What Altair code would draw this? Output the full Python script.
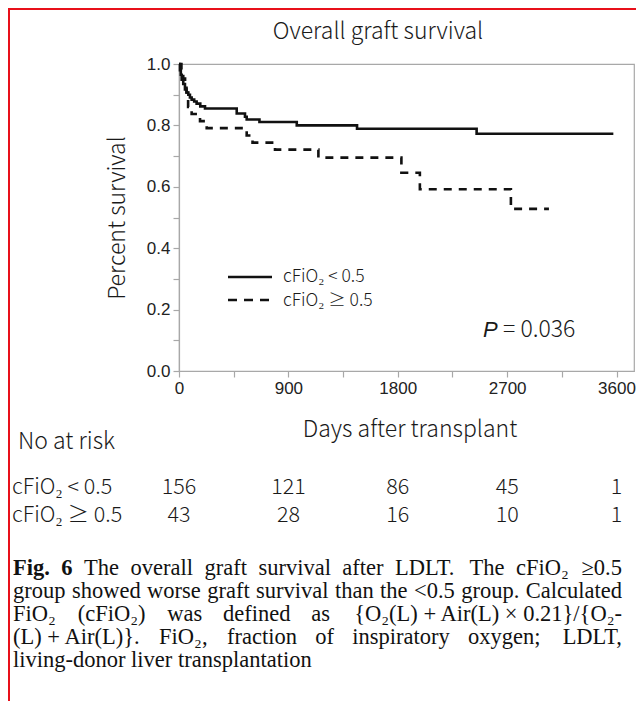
import altair as alt
import pandas as pd

# ---- data ----
days_low = [0, 8, 15, 22, 35, 49, 62, 77, 90, 104, 125, 145, 175, 214, 475, 543, 557, 662, 969, 1465, 2449, 3574]
surv_low = [1.0, 0.98, 0.965, 0.949, 0.935, 0.917, 0.907, 0.90, 0.891, 0.884, 0.878, 0.871, 0.862, 0.855,
            0.839, 0.828, 0.819, 0.811, 0.80, 0.789, 0.773, 0.773]
days_high = [0, 20, 35, 50, 62, 69, 75, 104, 173, 228, 557, 605, 790, 1147, 1830, 1982, 2731, 3044]
surv_high = [1.0, 0.977, 0.953, 0.93, 0.907, 0.884, 0.86, 0.837, 0.814, 0.791, 0.767, 0.744, 0.721,
             0.695, 0.646, 0.592, 0.528, 0.528]

risk_days = [0, 900, 1800, 2700, 3600]
risk_low = [156, 121, 86, 45, 1]
risk_high = [43, 28, 16, 10, 1]

x_ticks = [0, 450, 900, 1350, 1800, 2250, 2700, 3150, 3600]
y_ticks = [0.0, 0.1, 0.2, 0.3, 0.4, 0.5, 0.6, 0.7, 0.8, 0.9, 1.0]

title_text = "Overall graft survival"
x_title = "Days after transplant"
y_title = "Percent survival"
group_labels = ["cFiO\u2082 < 0.5", "cFiO\u2082 \u2265 0.5"]
p_text = "= 0.036"

caption_lines = [
    [("Fig.", True), ("6", True), ("The", False), ("overall", False), ("graft", False), ("survival", False),
     ("after", False), ("LDLT.", False), ("The", False), ("cFiO\u2082", False), ("\u22650.5", False)],
    [(w, False) for w in "group showed worse graft survival than the <0.5 group. Calculated".split(" ")],
    [(w, False) for w in ["FiO\u2082", "(cFiO\u2082)", "was", "defined", "as",
                          "{O\u2082(L) + Air(L) \u00d7 0.21}/{O\u2082-"]],
    [(w, False) for w in ["(L) + Air(L)}.", "FiO\u2082,", "fraction", "of", "inspiratory", "oxygen;", "LDLT,"]],
]
caption_last = "living-donor liver transplantation"

# ---- layout ----
W, H = 455, 307
X_MAX = 3744
CJK = "Noto Sans CJK JP"
INK = "#1a1a1a"
GRID = "#a8a8a8"
TICK_FONT = 17

x_scale = alt.Scale(domain=[0, X_MAX], nice=False, zero=True)
y_scale = alt.Scale(domain=[0, 1], nice=False)
x_axis = alt.Axis(values=x_ticks, format="d", labelExpr="datum.value % 900 == 0 ? datum.label : ''",
                  title=None, grid=False, labelFontSize=TICK_FONT, labelFont="Liberation Sans",
                  labelColor="#222", labelPadding=3, tickSize=6, labelFlush=False)
y_axis = alt.Axis(values=y_ticks, format=".1f",
                  labelExpr="round(datum.value * 10) % 2 == 0 ? datum.label : ''",
                  title=None, grid=False, labelFontSize=TICK_FONT, labelFont="Liberation Sans",
                  labelColor="#222", labelPadding=3, tickSize=6)

low_df = pd.DataFrame({"day": days_low, "s": surv_low})
high_df = pd.DataFrame({"day": days_high, "s": surv_high})

line_low = alt.Chart(low_df).mark_line(interpolate="step-after", strokeWidth=2.6, color="#111").encode(
    x=alt.X("day:Q", scale=x_scale, axis=x_axis),
    y=alt.Y("s:Q", scale=y_scale, axis=y_axis),
)
line_high = alt.Chart(high_df).mark_line(interpolate="step-after", strokeWidth=2.6, color="#111",
                                         strokeDash=[8, 7]).encode(
    x=alt.X("day:Q", scale=x_scale, axis=x_axis),
    y=alt.Y("s:Q", scale=y_scale, axis=y_axis),
)

BIG = 23
RISK = 21.5
LEG = 17.5

risk_df = pd.DataFrame({"day": risk_days + risk_days,
                        "n": [str(v) for v in risk_low] + [str(v) for v in risk_high],
                        "row": [0] * 5 + [1] * 5})
risk_layers = []
for r, yy in [(0, 424), (1, 452)]:
    risk_layers.append(
        alt.Chart(risk_df[risk_df.row == r]).mark_text(font=CJK, fontSize=RISK, color=INK, align="center",
                                                       baseline="middle", fontWeight=300).encode(
            x=alt.X("day:Q", scale=x_scale, axis=x_axis),
            y=alt.value(yy),
            text="n:N",
        )
    )


def txt(text, x, y, size, font=CJK, align="left", baseline="middle", angle=0, weight=300,
        style="normal", color=INK):
    return alt.Chart(pd.DataFrame({"t": [text]})).mark_text(
        font=font, fontSize=size, align=align, baseline=baseline, angle=angle,
        fontWeight=weight, fontStyle=style, color=color,
    ).encode(x=alt.value(x), y=alt.value(y), text="t:N")


# Times / Liberation Serif advance widths (per 1000 em) for caption justification
TW = {" ": 250, "(": 333, ")": 333, "+": 564, ",": 250, "-": 333, ".": 250, "/": 278, ";": 278,
      "<": 564, "{": 480, "}": 480, "\u00d7": 564, "\u2265": 549, "\u2082": 400,
      "A": 722, "C": 667, "D": 722, "F": 556, "L": 611, "O": 722, "T": 611,
      "a": 444, "b": 500, "c": 444, "d": 500, "e": 444, "f": 333, "g": 500, "h": 500, "i": 278,
      "l": 278, "m": 778, "n": 500, "o": 500, "p": 500, "r": 333, "s": 389, "t": 278, "u": 500,
      "v": 500, "w": 722, "x": 500, "y": 500}
for d in "0123456789":
    TW[d] = 500
TWB = {"F": 611, "i": 278, "g": 500, ".": 250, "6": 500}


def text_width(s, size, bold=False):
    tab = TWB if bold else TW
    return sum(tab.get(ch, TW.get(ch, 500)) for ch in s) * size / 1000.0


CAP_SIZE = 22.5
CAP_FONT = "Liberation Serif"
CAP_LEFT, CAP_RIGHT = -166, 443
cap_y = [504, 527, 550, 573, 596]

caption_layers = []
for words, yy in zip(caption_lines, cap_y):
    widths = [text_width(w, CAP_SIZE, b) for w, b in words]
    gap = (CAP_RIGHT - CAP_LEFT - sum(widths)) / (len(words) - 1)
    xpos = CAP_LEFT
    for i, ((w, b), wd) in enumerate(zip(words, widths)):
        if i == len(words) - 1:
            caption_layers.append(txt(w, CAP_RIGHT, yy, CAP_SIZE, font=CAP_FONT, align="right",
                                      weight="bold" if b else "normal", color="#111"))
        else:
            caption_layers.append(txt(w, xpos, yy, CAP_SIZE, font=CAP_FONT, align="left",
                                      weight="bold" if b else "normal", color="#111"))
        xpos += wd + gap
caption_layers.append(txt(caption_last, CAP_LEFT, cap_y[4], CAP_SIZE, font=CAP_FONT, weight="normal",
                          color="#111"))

# legend (drawn manually)
leg_solid = alt.Chart(pd.DataFrame({"a": [0]})).mark_rule(strokeWidth=2.6, color="#111").encode(
    x=alt.value(49), x2=alt.value(93), y=alt.value(213))
leg_dash = alt.Chart(pd.DataFrame({"a": [0]})).mark_rule(strokeWidth=2.6, color="#111",
                                                         strokeDash=[9, 7]).encode(
    x=alt.value(49), x2=alt.value(95), y=alt.value(236))

# red frame lines of the page
red_top = alt.Chart(pd.DataFrame({"a": [0]})).mark_rule(strokeWidth=2, color="#e8101a").encode(
    x=alt.value(-171), x2=alt.value(457), y=alt.value(-55))
red_left = alt.Chart(pd.DataFrame({"a": [0]})).mark_rule(strokeWidth=2, color="#e8101a").encode(
    x=alt.value(-170), y=alt.value(-56), y2=alt.value(637))

layers = [line_low, line_high] + risk_layers + [
    leg_solid, leg_dash,
    txt(group_labels[0], 104, 213, LEG),
    txt(group_labels[1], 104, 237, LEG),
    txt("P", 304, 266, 22, font="Liberation Sans", style="italic", weight="normal"),
    txt(p_text, 324, 266, BIG),
    txt(title_text, 199, -32, BIG, align="center"),
    txt(y_title, -61, 154, BIG, align="center", angle=270),
    txt(x_title, 231, 366, BIG, align="center"),
    txt("No at risk", -161, 378, BIG),
    txt(group_labels[0], -167, 424, RISK),
    txt(group_labels[1], -167, 452, RISK),
    red_top, red_left,
] + caption_layers

chart = alt.layer(*layers).properties(
    width=W, height=H,
    autosize=alt.AutoSizeParams(type="none"),
    padding={"left": 179, "top": 64, "right": 2, "bottom": 330},
    background="white",
).configure_view(stroke=GRID, strokeWidth=1.2).configure_axis(
    domainColor=GRID, tickColor=GRID, domainWidth=1.2, tickWidth=1.2,
)

chart.save("out.html", embed_options={"renderer": "svg", "actions": False})
